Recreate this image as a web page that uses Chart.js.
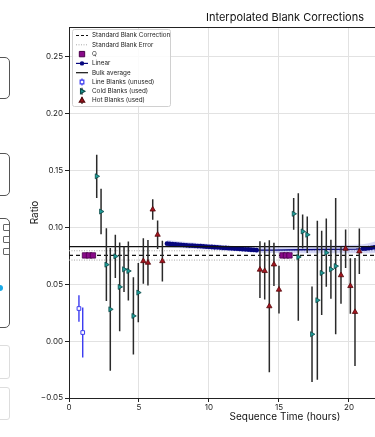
<!DOCTYPE html>
<html>
<head>
<meta charset="utf-8">
<script src="https://cdn.jsdelivr.net/npm/chart.js@4.4.0/dist/chart.umd.min.js"></script>
<style>
  html, body { margin: 0; padding: 0; background: #fff; overflow: hidden; width: 375px; height: 437px; }
  #wrap { position: relative; width: 375px; height: 437px; overflow: hidden; }
  #chart { position: absolute; left: 0; top: 0; }
  .side { position: absolute; left: -40px; width: 48px; border: 1px solid #555; border-radius: 5px; background: #fff; }
  .side.light { border-color: #ddd; border-radius: 3px; }
  .chk { position: absolute; left: 42px; width: 5px; height: 5px; border: 1px solid #666; border-radius: 1px; }
  .dot { position: absolute; left: -3px; top: 285px; width: 6px; height: 6px; border-radius: 50%; background: #19a9e6; }
</style>
</head>
<body>
<div id="wrap">
  <canvas id="chart" width="520" height="437"></canvas>
  <div class="side" style="top:57px;height:40px"></div>
  <div class="side" style="top:153px;height:41px"></div>
  <div class="side" style="top:218px;height:108px">
    <div class="chk" style="top:5px"></div>
    <div class="chk" style="top:17px"></div>
    <div class="chk" style="top:29px"></div>
  </div>
  <div class="dot"></div>
  <div class="side light" style="top:345px;height:32px"></div>
  <div class="side light" style="top:387px;height:31px"></div>
</div>
<script>
// axis ticks
const xTicks = [0, 5, 10, 15, 20, 25, 30];
const xTickLabels = ["0", "5", "10", "15", "20", "25", "30"];
const yTicks = [-0.05, 0, 0.05, 0.1, 0.15, 0.2, 0.25];
const yTickLabels = ["\u22120.05", "0.00", "0.05", "0.10", "0.15", "0.20", "0.25"];
const xMax = 30.86;

// reference lines
const stdCorrection = 0.0754;
const stdError = 0.0041;
const bulkAverage = 0.0831;

// Q blanks
const qTimes = [1.14, 1.43, 1.71, 15.25, 15.5, 15.75];
const qValues = [0.0754, 0.0754, 0.0754, 0.0754, 0.0754, 0.0754];

// linear interpolation
const linTimes = [7.0, 7.2, 7.4, 7.6, 7.8, 8.0, 8.2, 8.4, 8.6, 8.8, 9.0, 9.2, 9.4, 9.6, 9.8, 10.0, 10.2,
  10.4, 10.6, 10.8, 11.0, 11.2, 11.4, 11.6, 11.8, 12.0, 12.2, 12.4, 12.6, 12.8, 13.0, 13.2, 13.4,
  14.5, 16.5, 18.5, 20.5, 21.0, 21.2, 21.4, 21.6, 21.8, 22.0];
const linValues = [0.0857, 0.0855, 0.0853, 0.0851, 0.0849, 0.0847, 0.0845, 0.0843, 0.0841, 0.0840,
  0.0838, 0.0836, 0.0835, 0.0833, 0.0831, 0.0830, 0.0828, 0.0826, 0.0825, 0.0823, 0.0821, 0.0820,
  0.0818, 0.0816, 0.0815, 0.0813, 0.0811, 0.0809, 0.0808, 0.0806, 0.0804, 0.0802, 0.0800,
  0.0801, 0.0804, 0.0807, 0.0810, 0.0813, 0.0815, 0.0818, 0.0821, 0.0825, 0.0829];
const linErr = [0.0032, 0.0032, 0.0031, 0.0031, 0.0030, 0.0030, 0.0029, 0.0029, 0.0028, 0.0028,
  0.0027, 0.0027, 0.0026, 0.0026, 0.0025, 0.0025, 0.0025, 0.0024, 0.0024, 0.0024, 0.0023, 0.0023,
  0.0023, 0.0023, 0.0022, 0.0022, 0.0022, 0.0022, 0.0022, 0.0022, 0.0022, 0.0022, 0.0023,
  0.0026, 0.0030, 0.0034, 0.0038, 0.0040, 0.0042, 0.0044, 0.0047, 0.0050, 0.0053];

// line blanks (unused)
const lineTimes = [0.71, 0.98];
const lineValues = [0.0287, 0.0076];
const lineErr = [0.0117, 0.022];

// cold blanks (used)
const coldTimes = [1.98, 2.29, 2.67, 2.95, 3.31, 3.62, 3.93, 4.24, 4.60, 4.95,
  16.05, 16.38, 16.69, 17.02, 17.36, 17.74, 18.05, 18.38, 18.71, 19.05];
const coldValues = [0.145, 0.114, 0.0673, 0.028, 0.0746, 0.0477, 0.0632, 0.0617, 0.0222, 0.0427,
  0.112, 0.074, 0.0965, 0.0936, 0.0061, 0.036, 0.060, 0.0778, 0.0632, 0.066];
const coldErr = [0.019, 0.020, 0.032, 0.054, 0.019, 0.039, 0.020, 0.026, 0.034, 0.026,
  0.014, 0.056, 0.015, 0.016, 0.042, 0.070, 0.037, 0.030, 0.026, 0.060];

// hot blanks (used)
const hotTimes = [5.31, 5.64, 5.98, 6.33, 6.67, 13.64, 13.98, 14.31, 14.64, 15.00,
  19.43, 19.76, 20.10, 20.43, 20.74];
const hotValues = [0.0704, 0.069, 0.1158, 0.0936, 0.0704, 0.0629, 0.0617, 0.0307, 0.0675, 0.0453,
  0.058, 0.0813, 0.0485, 0.0257, 0.079];
const hotErr = [0.020, 0.020, 0.009, 0.0125, 0.018, 0.025, 0.025, 0.058, 0.019, 0.021,
  0.025, 0.017, 0.0245, 0.0475, 0.020];

const navy = "#06067e";
const blue = "#3b3bf0";
const coldFill = "#1f9e9a";
const coldEdge = "#0b4a48";
const hotFill = "#a3141e";
const hotEdge = "#560a0e";
const qFill = "#8a0a8a";
const qEdge = "#4a004a";
const barColor = "#2a2a2a";
const fontFamily = "Inter, 'DejaVu Sans', sans-serif";

function pts(ts, vs) {
  return ts.map((t, i) => ({ x: t, y: vs[i] }));
}
function hLine(v) {
  return [{ x: 0, y: v }, { x: xMax, y: v }];
}
function errSegs(ts, vs, es) {
  const out = [];
  ts.forEach((t, i) => {
    out.push({ x: t, y: vs[i] - es[i] }, { x: t, y: vs[i] + es[i] }, { x: t, y: null });
  });
  return out;
}

const legendItems = [
  { label: "Standard Blank Correction", kind: "line", color: "#111", dash: [3, 2], width: 1.2 },
  { label: "Standard Blank Error", kind: "line", color: "#aaa", dash: [1, 1.5], width: 1 },
  { label: "Q", kind: "marker", style: "rect", fill: qFill, edge: qEdge, r: 3.8 },
  { label: "Linear", kind: "linemarker", color: navy, r: 2.2 },
  { label: "Bulk average", kind: "line", color: "#111", width: 1.2 },
  { label: "Line Blanks (unused)", kind: "err", style: "rect", fill: "#fff", edge: blue, r: 2.6, bar: blue },
  { label: "Cold Blanks (used)", kind: "err", style: "triangle", rot: 90, fill: coldFill, edge: coldEdge, r: 2.9, bar: barColor },
  { label: "Hot Blanks (used)", kind: "err", style: "triangle", rot: 0, fill: hotFill, edge: hotEdge, r: 3.1, bar: barColor },
];

const decorPlugin = {
  id: "decor",
  afterDatasetsDraw(chart) {
    const { ctx, chartArea: a } = chart;
    ctx.save();
    ctx.strokeStyle = "#222";
    ctx.lineWidth = 1;
    ctx.beginPath();
    ctx.moveTo(a.left, a.top + 0.5);
    ctx.lineTo(a.right, a.top + 0.5);
    ctx.moveTo(a.right - 0.5, a.top);
    ctx.lineTo(a.right - 0.5, a.bottom);
    ctx.stroke();
    ctx.restore();
  },
  afterDraw(chart) {
    const { ctx, chartArea: a } = chart;
    ctx.save();
    // title
    ctx.fillStyle = "#111";
    ctx.font = "11px " + fontFamily;
    ctx.textAlign = "center";
    ctx.textBaseline = "middle";
    ctx.fillText("Interpolated Blank Corrections", (a.left + a.right) / 2, 18);

    // legend box
    const bx = a.left + 3, by = a.top + 2, bw = 98, bh = 77;
    ctx.fillStyle = "rgba(255,255,255,0.85)";
    ctx.strokeStyle = "#d0d0d0";
    ctx.lineWidth = 1;
    ctx.beginPath();
    ctx.roundRect(bx + 0.5, by + 0.5, bw, bh, 2);
    ctx.fill();
    ctx.stroke();

    ctx.font = "6.3px " + fontFamily;
    ctx.textAlign = "left";
    ctx.textBaseline = "middle";
    legendItems.forEach((it, i) => {
      const y = by + 6.5 + i * 9.3;
      const x0 = bx + 4, x1 = bx + 16, xc = (x0 + x1) / 2;
      ctx.save();
      if (it.kind === "line" || it.kind === "linemarker") {
        ctx.strokeStyle = it.color;
        ctx.lineWidth = it.width || 1.2;
        ctx.setLineDash(it.dash || []);
        ctx.beginPath();
        ctx.moveTo(x0, y);
        ctx.lineTo(x1, y);
        ctx.stroke();
        ctx.setLineDash([]);
        if (it.kind === "linemarker") {
          ctx.fillStyle = it.color;
          ctx.beginPath();
          ctx.arc(xc, y, it.r, 0, Math.PI * 2);
          ctx.fill();
        }
      } else {
        if (it.kind === "err") {
          ctx.strokeStyle = it.bar;
          ctx.lineWidth = 1.2;
          ctx.beginPath();
          ctx.moveTo(xc, y - 3.5);
          ctx.lineTo(xc, y + 3.5);
          ctx.stroke();
        }
        ctx.fillStyle = it.fill;
        ctx.strokeStyle = it.edge;
        Chart.helpers.drawPoint(ctx, { pointStyle: it.style, radius: it.r, rotation: it.rot || 0, borderWidth: 0.8 }, xc, y);
      }
      ctx.restore();
      ctx.fillStyle = "#222";
      ctx.fillText(it.label, bx + 20, y);
    });
    ctx.restore();
  },
};

new Chart(document.getElementById("chart"), {
  type: "scatter",
  data: {
    datasets: [
      { label: "Standard Blank Correction", data: hLine(stdCorrection), showLine: true, pointRadius: 0,
        borderColor: "#111", borderWidth: 1.2, borderDash: [4, 3], order: 30 },
      { label: "Standard Blank Error", data: hLine(stdCorrection + stdError), showLine: true, pointRadius: 0,
        borderColor: "#aaa", borderWidth: 1, borderDash: [1, 1.5], order: 31 },
      { label: "err-low", data: hLine(stdCorrection - stdError), showLine: true, pointRadius: 0,
        borderColor: "#aaa", borderWidth: 1, borderDash: [1, 1.5], order: 31 },
      { label: "band-up", data: pts(linTimes, linValues.map((v, i) => v + linErr[i])), showLine: true,
        pointRadius: 0, borderWidth: 0, borderColor: "rgba(0,0,0,0)", order: 29 },
      { label: "band-low", data: pts(linTimes, linValues.map((v, i) => v - linErr[i])), showLine: true,
        pointRadius: 0, borderWidth: 0, borderColor: "rgba(0,0,0,0)", fill: "-1",
        backgroundColor: "rgba(90,100,220,0.25)", order: 29 },
      { label: "Q", data: pts(qTimes, qValues), pointStyle: "rect", pointRadius: 3.8,
        backgroundColor: qFill, borderColor: qEdge, borderWidth: 0.8, order: 25 },
      { label: "Linear", data: pts(linTimes, linValues), showLine: true, borderColor: navy, borderWidth: 1.3,
        backgroundColor: navy, pointBackgroundColor: navy, pointBorderColor: navy, pointBorderWidth: 0,
        pointRadius: (c) => (c.raw && c.raw.x > 13.5 && c.raw.x < 20.9 ? 0 : 2.4), order: 24 },
      { label: "Bulk average", data: hLine(bulkAverage), showLine: true, pointRadius: 0,
        borderColor: "#111", borderWidth: 1.2, order: 23 },
      { label: "line-err", data: errSegs(lineTimes, lineValues, lineErr), showLine: true, spanGaps: false,
        pointRadius: 0, borderColor: blue, borderWidth: 1.4, order: 12 },
      { label: "Line Blanks (unused)", data: pts(lineTimes, lineValues), pointStyle: "rect", pointRadius: 2.6,
        backgroundColor: "#fff", borderColor: blue, borderWidth: 1, order: 11 },
      { label: "cold-err", data: errSegs(coldTimes, coldValues, coldErr), showLine: true, spanGaps: false,
        pointRadius: 0, borderColor: barColor, borderWidth: 1.5, order: 10 },
      { label: "Cold Blanks (used)", data: pts(coldTimes, coldValues), pointStyle: "triangle", rotation: 90,
        pointRadius: 2.9, backgroundColor: coldFill, borderColor: coldEdge, borderWidth: 0.8, order: 9 },
      { label: "hot-err", data: errSegs(hotTimes, hotValues, hotErr), showLine: true, spanGaps: false,
        pointRadius: 0, borderColor: barColor, borderWidth: 1.5, order: 8 },
      { label: "Hot Blanks (used)", data: pts(hotTimes, hotValues), pointStyle: "triangle",
        pointRadius: 3.1, backgroundColor: hotFill, borderColor: hotEdge, borderWidth: 0.8, order: 7 },
    ],
  },
  options: {
    responsive: false,
    animation: false,
    layout: { padding: { top: 27, right: 19, bottom: 0, left: 0 } },
    plugins: {
      legend: { display: false },
      title: { display: false },
      tooltip: { enabled: false },
    },
    scales: {
      x: {
        type: "linear",
        min: 0,
        max: xMax,
        afterBuildTicks: (s) => { s.ticks = xTicks.map((v) => ({ value: v })); },
        afterFit: (s) => { s.height = 39; },
        ticks: {
          callback: (v, i) => xTickLabels[i],
          font: { size: 8, family: fontFamily },
          color: "#222",
          padding: 1,
          maxRotation: 0,
          autoSkip: false,
        },
        grid: { color: "#e2e2e2", tickColor: "#222", tickLength: 4, lineWidth: 1 },
        border: { color: "#222", width: 1 },
        title: { display: true, text: "Sequence Time (hours)", font: { size: 10, family: fontFamily },
          color: "#111", padding: { top: 0, bottom: 14 } },
      },
      y: {
        min: -0.05,
        max: 0.2763,
        afterBuildTicks: (s) => { s.ticks = yTicks.map((v) => ({ value: v })); },
        afterFit: (s) => { s.width = 69; },
        ticks: {
          callback: (v, i) => yTickLabels[i],
          font: { size: 8, family: fontFamily },
          color: "#222",
          padding: 2,
        },
        grid: { color: "#e2e2e2", tickColor: "#222", tickLength: 4, lineWidth: 1 },
        border: { color: "#222", width: 1 },
        title: { display: true, text: "Ratio", font: { size: 10, family: fontFamily },
          color: "#111", padding: { top: 29, bottom: 0 } },
      },
    },
  },
  plugins: [decorPlugin],
});
</script>
</body>
</html>
